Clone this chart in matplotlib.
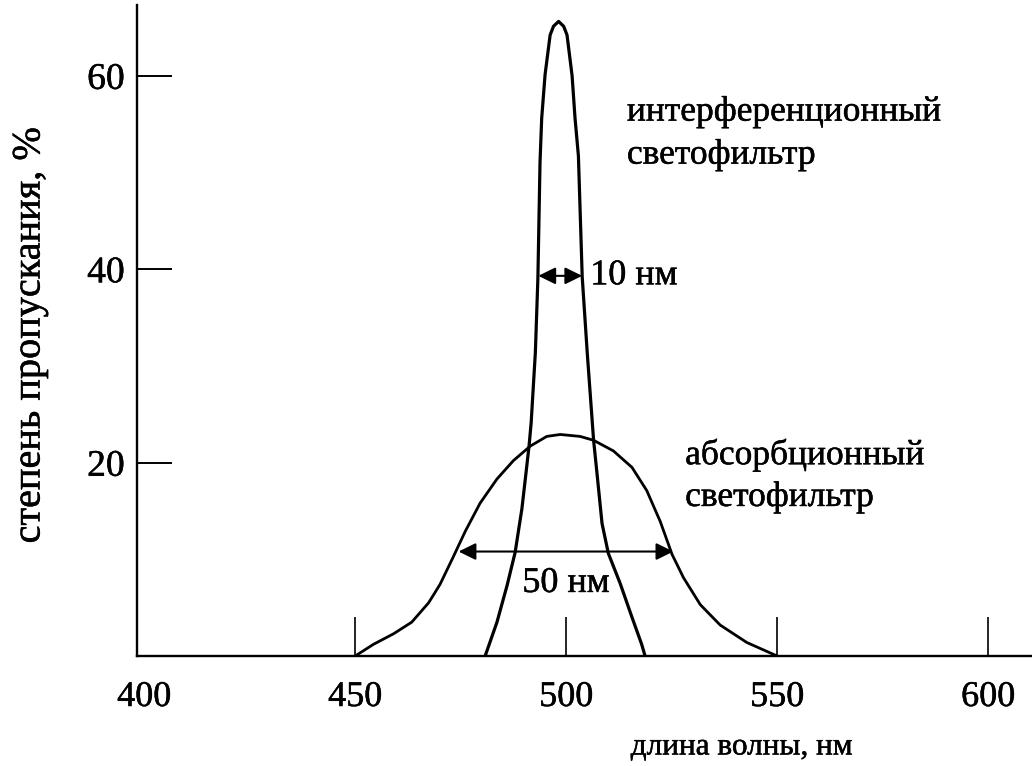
import matplotlib
matplotlib.use('Agg')
import matplotlib.pyplot as plt
import matplotlib.patheffects as pe

plt.rcParams['font.family'] = ['Liberation Serif', 'DejaVu Serif']

# interference filter transmission curve (nm, %)
interf_nm = [480.8, 483.6, 486.0, 487.9, 489.5, 490.5, 491.2, 491.7, 492.7, 493.3,
             493.8, 494.2, 495.0, 496.2, 497.0, 498.2, 499.4, 500.2, 501.4, 502.1,
             502.9, 503.8, 505.0, 506.5, 507.3, 508.5, 510.0, 512.8, 515.6, 517.9,
             518.7]
interf_t = [0.0, 3.5, 7.3, 10.7, 15.2, 19.0, 21.7, 24.1, 31.4, 39.1,
            51.0, 55.6, 60.1, 64.2, 65.1, 65.6, 65.1, 64.2, 60.0, 55.6,
            51.7, 39.2, 31.3, 22.3, 18.9, 13.7, 10.6, 7.5, 4.0, 1.2,
            0.0]

# absorption filter transmission curve (nm, %)
absorb_nm = [450.0, 454.3, 459.1, 463.4, 467.4, 470.1, 473.3, 476.1, 479.6, 483.6,
             487.5, 491.5, 495.4, 498.6, 503.3, 506.5, 511.2, 515.6, 519.1, 522.3,
             525.1, 527.8, 531.8, 536.5, 542.8, 550.0]
absorb_t = [0.0, 1.2, 2.3, 3.5, 5.5, 7.4, 10.3, 12.9, 15.8, 18.3,
            20.2, 21.7, 22.7, 22.9, 22.7, 22.3, 21.2, 19.5, 17.1, 13.9,
            10.5, 8.1, 5.3, 3.2, 1.4, 0.0]

x_ticks = [400, 450, 500, 550, 600]
y_ticks = [20, 40, 60]

# bandwidth markers: (left nm, right nm, level %, label)
fwhm_narrow = (493.4, 503.8, 39.3, '10 нм')
fwhm_wide = (474.5, 525.4, 10.8, '50 нм')

# a little extra weight so the serif text reads like print
ink = [pe.withStroke(linewidth=0.35, foreground='black')]

fig = plt.figure(figsize=(10.32, 7.66), dpi=100)
ax = fig.add_axes([0.1328, 0.1436, 0.8672, 0.8499])

ax.plot(interf_nm, interf_t, color='black', lw=2.3, solid_joinstyle='round')
ax.plot(absorb_nm, absorb_t, color='black', lw=2.0, solid_joinstyle='round')

ax.set_xlim(398.3, 610.4)
ax.set_ylim(0, 67.3)

for sp in ['top', 'right']:
    ax.spines[sp].set_visible(False)
for sp in ['left', 'bottom']:
    ax.spines[sp].set_linewidth(1.7)

ax.set_xticks(x_ticks)
ax.set_xticklabels([str(v) for v in x_ticks])
ax.set_yticks(y_ticks)
ax.set_yticklabels([str(v) for v in y_ticks])
ax.tick_params(axis='x', direction='in', length=28, width=1.2, pad=18, labelsize=26)
ax.tick_params(axis='y', direction='in', length=25, width=1.4, pad=9, labelsize=27)
ax.xaxis.get_major_ticks()[0].tick1line.set_visible(False)
for lab in ax.get_xticklabels() + ax.get_yticklabels():
    lab.set_path_effects(ink)

fig.text(30 / 1032, 1 - 335 / 766, 'степень пропускания, %', fontsize=29,
         rotation=90, ha='center', va='center', path_effects=ink)
fig.text(742 / 1032, 1 - 747 / 766, 'длина волны, нм', fontsize=22.5,
         ha='center', va='center', path_effects=ink)

arrow = dict(arrowstyle='<|-|>,head_length=0.65,head_width=0.32', color='black',
             lw=1.5, shrinkA=0, shrinkB=0, mutation_scale=16)
l, r, lev, txt = fwhm_narrow
ax.annotate('', xy=(l, lev), xytext=(r, lev), arrowprops=arrow)
ax.text(r + 1.9, lev, txt, fontsize=26, ha='left', va='center', path_effects=ink)
l, r, lev, txt = fwhm_wide
ax.annotate('', xy=(l, lev), xytext=(r, lev), arrowprops=arrow)
ax.text((l + r) / 2, lev - 3.3, txt, fontsize=26, ha='center', va='center',
        path_effects=ink)

ax.text(514.4, 54.0, 'интерференционный\nсветофильтр', fontsize=25.5,
        ha='left', va='center', linespacing=1.4, path_effects=ink)
ax.text(528.2, 18.6, 'абсорбционный\nсветофильтр', fontsize=25.5,
        ha='left', va='center', linespacing=1.35, path_effects=ink)

fig.savefig('out.png', dpi=100, facecolor='white')
